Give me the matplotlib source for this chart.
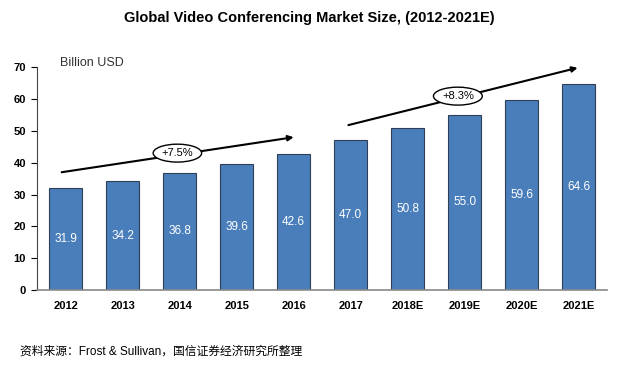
import matplotlib.pyplot as plt
import numpy as np

plt.rcParams['font.family'] = ['Liberation Sans', 'Noto Sans CJK SC', 'DejaVu Sans']

years = ['2012', '2013', '2014', '2015', '2016', '2017', '2018E', '2019E', '2020E', '2021E']
market = [31.9, 34.2, 36.8, 39.6, 42.6, 47.0, 50.8, 55.0, 59.6, 64.6]
cagr_labels = ['+7.5%', '+8.3%']

fig = plt.figure(figsize=(6.19, 3.69), dpi=100)
ax = fig.add_axes([0.060, 0.214, 0.921, 0.604])

x = np.arange(len(years))
bars = ax.bar(x, market, width=0.57, color='#4a7ebb', edgecolor='#2f3f55', linewidth=0.8)

for rect, v in zip(bars, market):
    ax.text(rect.get_x() + rect.get_width() / 2, v / 2, f'{v:.1f}',
            ha='center', va='center', color='white', fontsize=8.5)

ax.set_xlim(-0.5, 9.5)
ax.set_ylim(0, 70)
ax.set_yticks(range(0, 71, 10))
ax.set_xticks(x)
ax.set_xticklabels(years)
for lab in ax.get_xticklabels() + ax.get_yticklabels():
    lab.set_fontweight('bold')
    lab.set_fontsize(8)
ax.tick_params(axis='x', length=0, pad=8)
ax.tick_params(axis='y', length=4, width=0.8, pad=4)
ax.spines['top'].set_visible(False)
ax.spines['right'].set_visible(False)
ax.spines['left'].set_color('#444444')
ax.spines['bottom'].set_color('#888888')
ax.spines['bottom'].set_linewidth(1.2)

# CAGR arrows
arrows = [((-0.07, 37.0), (4.0, 48.0), (1.96, 43.0)),
          ((4.96, 51.8), (8.98, 69.8), (6.88, 60.9))]
for (start, end, mid), lbl in zip(arrows, cagr_labels):
    ax.annotate('', xy=end, xytext=start,
                arrowprops=dict(arrowstyle='-|>', color='black', lw=1.5,
                                mutation_scale=8, shrinkA=0, shrinkB=0))
    ax.text(mid[0], mid[1], lbl, ha='center', va='center', fontsize=8,
            bbox=dict(boxstyle='ellipse,pad=0.12', fc='white', ec='black', lw=1))

ax.text(0.04, 1.02, 'Billion USD', transform=ax.transAxes, fontsize=9,
        color='#333333', ha='left', va='center')

fig.text(0.50, 0.951, 'Global Video Conferencing Market Size, (2012-2021E)',
         ha='center', va='center', fontsize=10.5, fontweight='bold')
fig.text(0.032, 0.046, '资料来源：Frost & Sullivan，国信证券经济研究所整理',
         ha='left', va='center', fontsize=8.5)

fig.savefig('out.png', dpi=100)
